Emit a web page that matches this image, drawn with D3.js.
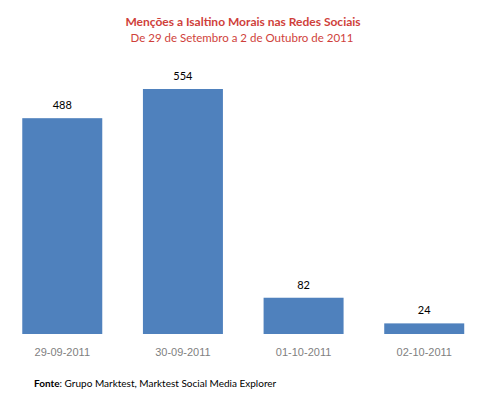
<!DOCTYPE html>
<meta charset="utf-8">
<style>
body{ margin:0; background:#fff; }
svg{ display:block; font-family: Lato, "Open Sans", sans-serif; }
.title{ fill:#cf3f3b; font-weight:bold; font-size:12px; }
.subtitle{ fill:#cf3f3b; font-size:11.5px; }
.value{ fill:#000; font-size:11px; }
.tick text{ fill:#7f7f7f; font-size:11px; }
.source{ fill:#000; font-size:10px; }
</style>
<svg width="481" height="398"></svg>
<script src="https://d3js.org/d3.v7.min.js"></script>
<script>

var dates = ['29-09-2011', '30-09-2011', '01-10-2011', '02-10-2011'];
var mentions = [488, 554, 82, 24];

var svg = d3.select('svg');
var baseY = 334;

var x = d3.scaleBand()
    .domain(dates)
    .range([2, 484.5])
    .paddingInner(0.337)
    .paddingOuter(0.168);

var y = d3.scaleLinear()
    .domain([0, 554])
    .range([baseY, 89]);

var data = dates.map(function(d, i){ return {date: d, value: mentions[i]}; });

svg.selectAll('rect.bar')
    .data(data)
    .enter()
    .append('rect')
        .attr('class', 'bar')
        .attr('x', function(d){ return x(d.date); })
        .attr('y', function(d){ return y(d.value); })
        .attr('width', x.bandwidth())
        .attr('height', function(d){ return baseY - y(d.value); })
        .attr('fill', '#4f81bd');

svg.selectAll('text.value')
    .data(data)
    .enter()
    .append('text')
        .attr('class', 'value')
        .attr('x', function(d){ return x(d.date) + x.bandwidth()/2; })
        .attr('y', function(d){ return y(d.value) - 9; })
        .attr('text-anchor', 'middle')
        .text(function(d){ return d.value; });

var axis = svg.append('g')
    .attr('transform', 'translate(0,' + baseY + ')')
    .call(d3.axisBottom(x).tickSize(0).tickPadding(14));
axis.select('.domain').remove();
axis.selectAll('text').attr('font-family', null).attr('font-size', null);

svg.append('text')
    .attr('class', 'title')
    .attr('x', 243).attr('y', 26)
    .attr('text-anchor', 'middle')
    .text('Menções a Isaltino Morais nas Redes Sociais');

svg.append('text')
    .attr('class', 'subtitle')
    .attr('x', 242).attr('y', 42)
    .attr('text-anchor', 'middle')
    .text('De 29 de Setembro a 2 de Outubro de 2011');

var src = svg.append('text')
    .attr('class', 'source')
    .attr('x', 34).attr('y', 387);
src.append('tspan').attr('font-weight', 'bold').text('Fonte');
src.append('tspan').text(': Grupo Marktest, Marktest Social Media Explorer');

</script>
